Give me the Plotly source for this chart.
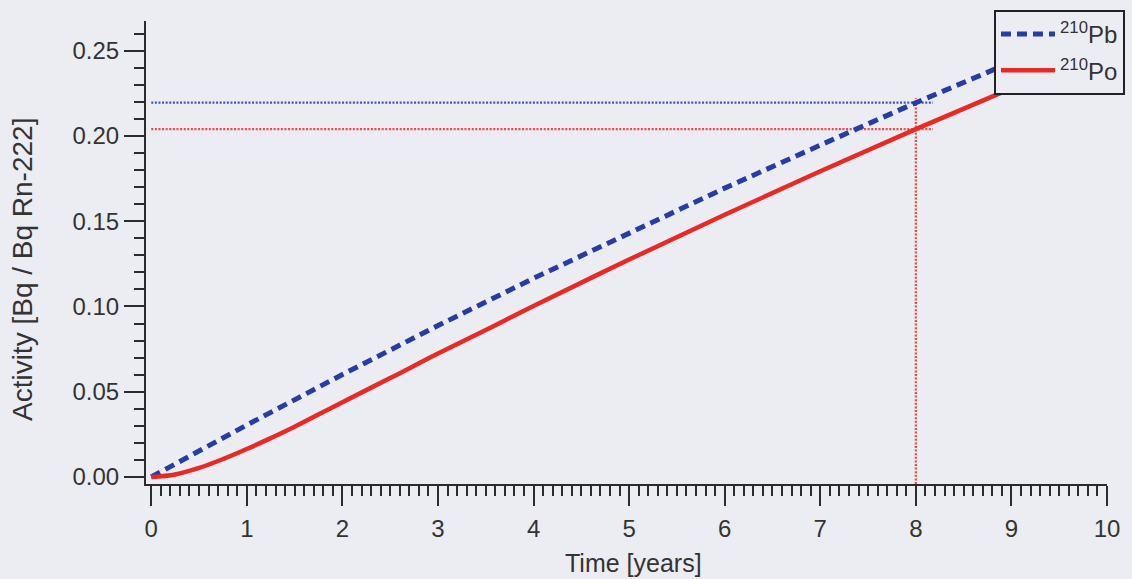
import plotly.graph_objects as go

# Ingrowth of Rn-222 daughters, activity relative to the parent
time_pb = [0, 1, 2, 3, 4, 5, 6, 7, 8, 9, 10]
activity_pb = [0.0, 0.0305, 0.0601, 0.0888, 0.1165, 0.1432, 0.1694, 0.1946, 0.2195, 0.2433, 0.2663]

time_po = [0, 0.25, 0.5, 0.75, 1, 1.25, 1.5, 2, 2.5, 3, 3.5, 4, 5, 6, 7, 8, 9, 10]
activity_po = [0.0, 0.0015, 0.0053, 0.0105, 0.0164, 0.0228, 0.0295, 0.0439, 0.0580,
               0.0724, 0.0862, 0.1003, 0.1275, 0.1538, 0.1793, 0.2040, 0.2279, 0.2511]

# Read-off markers at t = 8 years
t_mark = 8
pb_at_mark = 0.2195
po_at_mark = 0.2040
guide_end = 8.18
guide_top = 0.2223

x_ticks = [0, 1, 2, 3, 4, 5, 6, 7, 8, 9, 10]
y_ticks = [0.00, 0.05, 0.10, 0.15, 0.20, 0.25]

BG = "#ecedf2"
AXIS = "#2b2b2b"
BLUE = "rgb(40,60,168)"
RED = "rgb(232,42,36)"
BLUE_DOT = "rgb(60,82,205)"
RED_DOT = "rgb(236,70,70)"
FONT = "Liberation Sans, Arial, Helvetica, sans-serif"

fig = go.Figure()

# guide lines
fig.add_trace(go.Scatter(x=[0, guide_end], y=[pb_at_mark, pb_at_mark], mode="lines",
                         line=dict(color=BLUE_DOT, width=2.2, dash="2px,1.6px"),
                         showlegend=False, hoverinfo="skip"))
fig.add_trace(go.Scatter(x=[0, guide_end], y=[po_at_mark, po_at_mark], mode="lines",
                         line=dict(color=RED_DOT, width=2.2, dash="2px,1.6px"),
                         showlegend=False, hoverinfo="skip"))
fig.add_trace(go.Scatter(x=[t_mark, t_mark], y=[-0.0041, guide_top], mode="lines",
                         line=dict(color=RED_DOT, width=2.2, dash="2px,1.6px"),
                         showlegend=False, hoverinfo="skip", cliponaxis=False))

# activity curves
fig.add_trace(go.Scatter(x=time_pb, y=activity_pb, mode="lines", name="<sup>210</sup>Pb",
                         line=dict(color=BLUE, width=5, dash="10px,6px"), legendgroup="pb"))
fig.add_trace(go.Scatter(x=time_po, y=activity_po, mode="lines", name="<sup>210</sup>Po",
                         line=dict(color=RED, width=4.5, shape="spline"), legendgroup="po"))

axis_common = dict(
    showline=True, linecolor=AXIS, linewidth=2,
    ticks="outside", ticklen=20, tickwidth=2, tickcolor=AXIS,
    showgrid=False, zeroline=False,
    tickfont=dict(family=FONT, size=24, color="#333333"),
)

fig.update_xaxes(range=[-0.055, 10.0], tickvals=x_ticks, ticklabelstandoff=2,
                 minor=dict(dtick=0.1, tick0=0, ticklen=10, tickwidth=2, tickcolor=AXIS, ticks="outside"),
                 **axis_common)
fig.update_yaxes(range=[-0.0041, 0.2674], tickvals=y_ticks, tickformat=".2f",
                 minor=dict(dtick=0.01, tick0=0, ticklen=10, tickwidth=2, tickcolor=AXIS, ticks="outside"),
                 **axis_common)

fig.update_layout(
    width=1132, height=579,
    margin=dict(l=146, r=25, t=21, b=95, autoexpand=False),
    paper_bgcolor=BG, plot_bgcolor=BG,
    font=dict(family=FONT, color="#333333"),
    showlegend=True,
    legend=dict(x=1.0187, xanchor="right", y=1.0238, yanchor="top",
                bgcolor=BG, bordercolor="#222222", borderwidth=2,
                font=dict(family=FONT, size=24, color="#333333"),
                itemwidth=54, tracegroupgap=2),
    annotations=[
        dict(text="Time [years]", xref="paper", yref="paper", x=0.5068, y=-0.1706,
             xanchor="center", yanchor="middle", showarrow=False,
             font=dict(family=FONT, size=25, color="#333333")),
        dict(text="Activity [Bq / Bq Rn-222]", xref="paper", yref="paper", x=-0.129, y=0.4622,
             xanchor="center", yanchor="middle", textangle=-90, showarrow=False,
             font=dict(family=FONT, size=28, color="#333333")),
    ],
)

fig.write_html("out.html")
